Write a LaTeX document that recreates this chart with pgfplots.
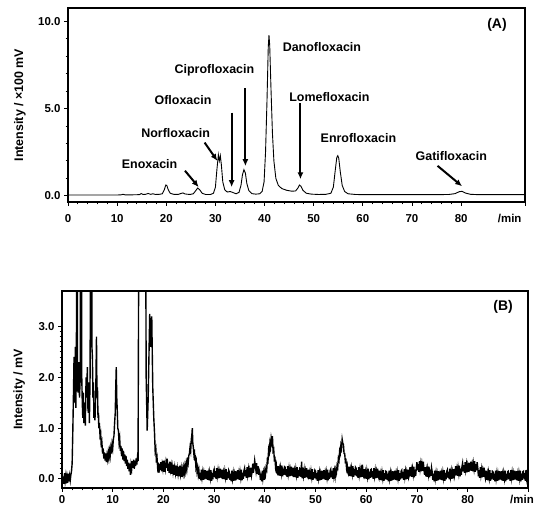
\documentclass[border=0pt]{standalone}
\usepackage{fontspec}
\setmainfont{Liberation Sans}
\usepackage{pgfplots}
\pgfplotsset{compat=1.18}
\usetikzlibrary{arrows.meta}

\pgfplotsset{
  chrom/.style={
    scale only axis,
    axis line style={line width=1.1pt},
    tick align=outside, tick pos=left,
    xmin=0, xtick={0,10,...,80}, minor x tick num=4,
    major tick length=4pt, minor tick length=2.5pt,
    every tick/.style={black, line width=0.9pt},
    /pgf/number format/assume math mode=true,
    tick label style={font=\fontsize{11.5}{12}\bfseries\selectfont},
    yticklabel={\pgfmathprintnumber[fixed,fixed zerofill,precision=1]{\tick}},
    ylabel style={font=\fontsize{12.5}{14}\bfseries\selectfont, anchor=center},
  },
}
\tikzset{
  lbl/.style={font=\fontsize{12.5}{14}\bfseries\selectfont},
  arr/.style={-{Latex[length=7pt,width=6pt]}, line width=2pt},
}

\begin{document}
\begin{tikzpicture}
\useasboundingbox (0,0) rectangle (534bp,507bp);

% (A) standard mixture
\begin{axis}[chrom,
  at={(68bp,305bp)}, anchor=south west,
  width=457bp, height=194bp,
  xmax=93, ymin=-0.35, ymax=10.75,
  ytick={0,5,10}, minor y tick num=4,
  xticklabel style={yshift=-5bp},
  extra x ticks={93}, extra x tick labels={/min},
  extra x tick style={xticklabel style={anchor=north east, xshift=0bp}},
  ylabel={Intensity / ×100 mV},
  ylabel style={at={(axis description cs:-0.105,0.5)}},
]
\addplot[black, line width=0.9pt] coordinates {
(0,0.05) (5,0.05) (10,0.05) (10.8,0.06) (11.2,0.09) (11.6,0.06) (13,0.06)
(14.5,0.07) (14.9,0.13) (15.3,0.08) (15.8,0.09) (16.3,0.14) (16.8,0.09)
(17.3,0.12) (17.8,0.08) (18.6,0.09) (19.2,0.12) (19.6,0.35) (19.9,0.62)
(20.1,0.6) (20.4,0.35) (20.8,0.15) (21.5,0.09) (22.5,0.09) (23.0,0.14)
(23.4,0.17) (23.8,0.11) (24.8,0.08) (25.5,0.12) (26.0,0.3) (26.4,0.45)
(26.8,0.35) (27.3,0.15) (28.0,0.08) (29.0,0.08) (29.6,0.15) (30.0,0.5)
(30.3,1.5) (30.6,2.35) (30.8,2.0) (31.0,2.3) (31.2,1.8) (31.5,0.8)
(31.9,0.35) (32.4,0.22) (33.0,0.25) (33.5,0.2) (34.2,0.12) (34.8,0.2)
(35.2,0.6) (35.5,1.2) (35.8,1.5) (36.1,1.3) (36.4,0.7) (36.8,0.3)
(37.4,0.13) (38.2,0.1) (39.0,0.12) (39.5,0.25) (39.9,0.8) (40.2,2.5)
(40.5,5.5) (40.75,8.5) (40.9,9.2) (41.05,8.6) (41.3,6.2) (41.6,3.6)
(41.9,2.0) (42.3,1.0) (42.8,0.6) (43.5,0.42) (44.5,0.32) (45.5,0.27)
(46.3,0.28) (46.8,0.45) (47.1,0.62) (47.4,0.55) (47.8,0.32) (48.5,0.15)
(49.5,0.1) (51,0.08) (52.5,0.09) (53.5,0.15) (54.0,0.5) (54.4,1.5)
(54.7,2.2) (54.9,2.3) (55.1,2.15) (55.4,1.4) (55.8,0.6) (56.3,0.25)
(57.0,0.12) (58.5,0.08) (60,0.07) (65,0.07) (70,0.07) (75,0.07)
(77.5,0.08) (78.8,0.13) (79.6,0.24) (80.2,0.26) (80.9,0.16) (81.9,0.09)
(83.5,0.07) (93,0.07)
};
\node[lbl] at (axis cs:16.6,1.84) {Enoxacin};
\draw[arr] (axis cs:23.8,1.44) -- (axis cs:26.6,0.5);
\node[lbl] at (axis cs:21.9,3.62) {Norfloxacin};
\draw[arr] (axis cs:27.8,3.05) -- (axis cs:30.4,2.0);
\node[lbl] at (axis cs:23.4,5.46) {Ofloxacin};
\draw[arr] (axis cs:33.3,4.77) -- (axis cs:33.3,0.5);
\node[lbl] at (axis cs:29.8,7.18) {Ciprofloxacin};
\draw[arr] (axis cs:36.1,6.15) -- (axis cs:36.1,1.7);
\node[lbl, anchor=west] at (axis cs:43.0,8.5) {Danofloxacin};
\node[lbl] at (axis cs:53.2,5.63) {Lomefloxacin};
\draw[arr] (axis cs:47.3,5.29) -- (axis cs:47.3,0.95);
\node[lbl] at (axis cs:59.1,3.33) {Enrofloxacin};
\node[lbl] at (axis cs:78,2.3) {Gatifloxacin};
\draw[arr] (axis cs:75.2,1.72) -- (axis cs:80.2,0.55);
\node[lbl, font=\fontsize{14}{16}\bfseries\selectfont] at (axis cs:87.3,9.77) {(A)};
\end{axis}

% (B) sample
\begin{axis}[chrom,
  at={(62bp,19bp)}, anchor=south west,
  width=466bp, height=197bp,
  xmax=91.9, ymin=-0.18, ymax=3.7,
  ytick={0,1,2,3}, minor y tick num=9,
  extra x ticks={91.9}, extra x tick labels={/min},
  extra x tick style={xticklabel style={anchor=north, xshift=-6bp}},
  ylabel={Intensity / mV},
  ylabel style={at={(axis description cs:-0.092,0.5)}},
]
\addplot[black, line width=1.4pt] coordinates {
(0,0.09) (0.125,-0.07) (0.25,0.05) (0.375,-0.10) (0.5,0.11) (0.625,-0.04)
(0.75,0.06) (0.875,-0.09) (1.0,0.03) (1.125,-0.08) (1.25,0.10) (1.375,-0.05)
(1.5,0.06) (1.625,-0.03) (1.75,0.08) (1.875,0.15)
(2.0,0.3) (2.125,0.9) (2.25,1.6) (2.375,2.4) (2.5,1.5) (2.625,2.6) (2.75,1.4)
(2.85,2.9) (2.95,8) (3.05,2.2) (3.15,1.7) (3.3,2.3) (3.45,1.6) (3.6,2.0)
(3.7,8) (3.8,8) (3.9,2.0) (4.0,1.5) (4.1,1.2) (4.2,1.7) (4.3,1.1) (4.45,1.5)
(4.6,1.05) (4.75,2.0) (4.85,1.6) (5.0,2.2) (5.1,1.4) (5.2,1.3) (5.3,1.9)
(5.4,1.1) (5.55,2.1) (5.65,8) (5.8,8) (5.9,2.6) (6.0,2.4) (6.1,1.6) (6.2,1.9)
(6.3,1.2) (6.4,1.5) (6.5,1.15) (6.6,1.5) (6.7,2.0) (6.8,2.8) (6.9,1.6)
(7.0,1.8) (7.1,1.2) (7.2,1.3)
(7.25,1.0) (7.375,1.1) (7.5,0.85) (7.625,0.9) (7.75,0.62) (7.875,0.7)
(8.0,0.5) (8.125,0.6) (8.25,0.4) (8.375,0.52) (8.5,0.36) (8.625,0.5)
(8.75,0.33) (8.875,0.46) (9.0,0.38) (9.125,0.52) (9.25,0.42) (9.375,0.55)
(9.5,0.45) (9.625,0.6) (9.75,0.5) (9.875,0.68) (10.0,0.6) (10.125,0.78)
(10.25,0.85) (10.375,1.1) (10.5,1.3) (10.6,1.8) (10.7,2.2) (10.8,1.6)
(10.9,1.35) (11.0,1.0) (11.125,0.95) (11.25,0.72) (11.375,0.8) (11.5,0.55)
(11.625,0.65) (11.75,0.45) (11.875,0.6) (12.0,0.38) (12.125,0.55) (12.25,0.35)
(12.375,0.48) (12.5,0.3) (12.625,0.45) (12.75,0.25) (12.875,0.38) (13.0,0.2)
(13.125,0.32) (13.25,0.15) (13.375,0.3) (13.5,0.08) (13.625,0.28) (13.75,0.2)
(13.875,0.35) (14.0,0.22) (14.125,0.38) (14.25,0.2) (14.375,0.36) (14.5,0.25)
(14.625,0.4) (14.75,0.28) (14.875,0.42) (15.0,0.35)
(15.1,3.5) (15.3,8) (16.4,8) (16.6,2.0) (16.8,0.95) (17.0,1.6) (17.3,3.25)
(17.5,2.6) (17.7,3.2) (17.9,1.8) (18.1,1.2) (18.25,0.9) (18.375,0.55)
(18.5,0.6) (18.625,0.32) (18.75,0.4) (18.875,0.2)
(19.0,0.25) (19.125,0.12) (19.25,0.3) (19.375,0.18) (19.5,0.33) (19.625,0.15)
(19.75,0.28) (19.875,0.2) (20.0,0.36) (20.125,0.14) (20.25,0.27) (20.375,0.19)
(20.5,0.32) (20.625,0.22) (20.75,0.4) (20.875,0.16) (21.0,0.3) (21.125,0.12)
(21.25,0.34) (21.375,0.18) (21.5,0.26) (21.625,0.1) (21.75,0.24) (21.875,0.14)
(22.0,0.28) (22.125,0.08) (22.25,0.22) (22.375,0.12) (22.5,0.26) (22.625,0.06)
(22.75,0.2) (22.875,0.1) (23.0,0.24) (23.125,0.05) (23.25,0.26) (23.375,0.1)
(23.5,0.2) (23.625,0.04) (23.75,0.18) (23.875,0.1) (24.0,0.22) (24.125,0.12)
(24.25,0.25) (24.375,0.16) (24.5,0.3) (24.625,0.2) (24.75,0.35) (24.875,0.3)
(25.0,0.45) (25.125,0.5) (25.25,0.62) (25.375,0.55) (25.5,0.78) (25.6,0.85)
(25.7,1.0) (25.8,0.7) (25.9,0.62) (26.0,0.5) (26.1,0.58) (26.2,0.4)
(26.3,0.42) (26.4,0.25) (26.5,0.32) (26.625,0.15) (26.75,0.22) (26.875,0.08)
(27.0,0.16) (27.125,0.00) (27.25,0.12) (27.375,-0.03) (27.5,0.18) (27.625,0.03)
(27.75,0.13) (27.875,-0.02) (28.0,0.10) (28.125,-0.01) (28.25,0.17) (28.375,0.02)
(28.5,0.01) (28.625,0.16) (28.75,-0.02) (28.875,0.09) (29.0,-0.03) (29.125,0.12)
(29.25,0.02) (29.375,0.17) (29.5,-0.04) (29.625,0.11) (29.75,-0.01) (29.875,0.15)
(30.0,0.19) (30.125,0.03) (30.25,0.15) (30.375,0.00) (30.5,0.21) (30.625,0.06)
(30.75,0.16) (30.875,0.01) (31.0,0.13) (31.125,0.02) (31.25,0.20) (31.375,0.05)
(31.5,0.03) (31.625,0.18) (31.75,0.00) (31.875,0.11) (32.0,-0.01) (32.125,0.14)
(32.25,0.04) (32.375,0.19) (32.5,-0.02) (32.625,0.13) (32.75,0.01) (32.875,0.17)
(33.0,0.14) (33.125,-0.02) (33.25,0.10) (33.375,-0.05) (33.5,0.16) (33.625,0.01)
(33.75,0.11) (33.875,-0.04) (34.0,0.08) (34.125,-0.03) (34.25,0.15) (34.375,0.00)
(34.5,0.02) (34.625,0.17) (34.75,-0.01) (34.875,0.10) (35.0,-0.02) (35.125,0.13)
(35.25,0.03) (35.375,0.18) (35.5,-0.03) (35.625,0.12) (35.75,0.00) (35.875,0.16)
(36.0,0.21) (36.125,0.05) (36.25,0.17) (36.375,0.02) (36.5,0.23) (36.625,0.08)
(36.75,0.18) (36.875,0.03) (37.0,0.15) (37.125,0.04) (37.25,0.22) (37.375,0.07)
(37.5,0.15) (37.625,0.30) (37.75,0.12) (37.875,0.23) (38.0,0.36) (38.125,0.26)
(38.25,0.16) (38.375,0.31) (38.5,0.10) (38.625,0.25) (38.75,0.08) (38.875,0.18)
(39.0,0.14) (39.125,-0.02) (39.25,0.10) (39.375,-0.05) (39.5,0.16) (39.625,0.01)
(39.75,0.11) (39.875,-0.02)
(40.0,0.15) (40.125,0.08) (40.25,0.22) (40.375,0.18) (40.5,0.38) (40.625,0.35)
(40.75,0.58) (40.875,0.52) (41.0,0.7) (41.125,0.62) (41.25,0.8) (41.375,0.72)
(41.5,0.84) (41.625,0.55) (41.75,0.58) (41.875,0.38) (42.0,0.4) (42.125,0.22)
(42.25,0.28) (42.375,0.12)
(42.5,0.10) (42.625,0.25) (42.75,0.07) (42.875,0.18) (43.0,0.06) (43.125,0.21)
(43.25,0.11) (43.375,0.26) (43.5,0.05) (43.625,0.20) (43.75,0.08) (43.875,0.24)
(44.0,0.23) (44.125,0.07) (44.25,0.19) (44.375,0.04) (44.5,0.25) (44.625,0.10)
(44.75,0.20) (44.875,0.05) (45.0,0.17) (45.125,0.06) (45.25,0.24) (45.375,0.09)
(45.5,0.07) (45.625,0.22) (45.75,0.04) (45.875,0.15) (46.0,0.03) (46.125,0.18)
(46.25,0.08) (46.375,0.23) (46.5,0.02) (46.625,0.17) (46.75,0.05) (46.875,0.21)
(47.0,0.20) (47.125,0.04) (47.25,0.34) (47.375,0.01) (47.5,0.22) (47.625,0.07)
(47.75,0.17) (47.875,0.02) (48.0,0.14) (48.125,0.03) (48.25,0.21) (48.375,0.06)
(48.5,0.03) (48.625,0.18) (48.75,0.00) (48.875,0.11) (49.0,-0.01) (49.125,0.14)
(49.25,0.04) (49.375,0.19) (49.5,-0.02) (49.625,0.13) (49.75,0.01) (49.875,0.17)
(50.0,0.15) (50.125,-0.01) (50.25,0.11) (50.375,-0.04) (50.5,0.17) (50.625,0.02)
(50.75,0.12) (50.875,-0.03) (51.0,0.09) (51.125,-0.02) (51.25,0.16) (51.375,0.01)
(51.5,0.02) (51.625,0.17) (51.75,-0.01) (51.875,0.10) (52.0,-0.02) (52.125,0.13)
(52.25,0.03) (52.375,0.18) (52.5,-0.03) (52.625,0.12) (52.75,0.00) (52.875,0.16)
(53.0,0.19) (53.125,0.03) (53.25,0.15) (53.375,0.00) (53.5,0.21) (53.625,0.06)
(53.75,0.16) (53.875,0.05)
(54.0,0.18) (54.125,0.12) (54.25,0.26) (54.375,0.22) (54.5,0.4) (54.625,0.36)
(54.75,0.55) (54.875,0.5) (55.0,0.66) (55.125,0.6) (55.25,0.78) (55.375,0.7)
(55.5,0.68) (55.625,0.5) (55.75,0.5) (55.875,0.34) (56.0,0.36) (56.125,0.2)
(56.25,0.26) (56.375,0.12)
(56.5,0.09) (56.625,0.24) (56.75,0.06) (56.875,0.17) (57.0,0.05) (57.125,0.20)
(57.25,0.10) (57.375,0.25) (57.5,0.04) (57.625,0.19) (57.75,0.07) (57.875,0.23)
(58.0,0.21) (58.125,0.05) (58.25,0.17) (58.375,0.02) (58.5,0.23) (58.625,0.08)
(58.75,0.18) (58.875,0.03) (59.0,0.15) (59.125,0.04) (59.25,0.28) (59.375,0.07)
(59.5,0.04) (59.625,0.19) (59.75,0.01) (59.875,0.12) (60.0,0.00) (60.125,0.15)
(60.25,0.05) (60.375,0.20) (60.5,-0.01) (60.625,0.14) (60.75,0.02) (60.875,0.18)
(61.0,0.19) (61.125,0.03) (61.25,0.15) (61.375,0.00) (61.5,0.21) (61.625,0.06)
(61.75,0.16) (61.875,0.01) (62.0,0.13) (62.125,0.02) (62.25,0.20) (62.375,0.05)
(62.5,0.01) (62.625,0.16) (62.75,-0.02) (62.875,0.09) (63.0,-0.03) (63.125,0.12)
(63.25,0.02) (63.375,0.17) (63.5,-0.04) (63.625,0.11) (63.75,-0.01) (63.875,0.15)
(64.0,0.14) (64.125,-0.02) (64.25,0.10) (64.375,-0.05) (64.5,0.16) (64.625,0.01)
(64.75,0.11) (64.875,-0.04) (65.0,0.08) (65.125,-0.03) (65.25,0.15) (65.375,0.00)
(65.5,0.01) (65.625,0.16) (65.75,-0.02) (65.875,0.09) (66.0,-0.03) (66.125,0.12)
(66.25,0.02) (66.375,0.17) (66.5,-0.04) (66.625,0.11) (66.75,-0.01) (66.875,0.15)
(67.0,0.17) (67.125,0.01) (67.25,0.13) (67.375,-0.02) (67.5,0.19) (67.625,0.04)
(67.75,0.14) (67.875,-0.01) (68.0,0.11) (68.125,0.00) (68.25,0.18) (68.375,0.03)
(68.5,0.08) (68.625,0.23) (68.75,0.05) (68.875,0.16) (69.0,0.04) (69.125,0.19)
(69.25,0.09) (69.375,0.24) (69.5,0.03) (69.625,0.18) (69.75,0.06) (69.875,0.22)
(70.0,0.33) (70.125,0.17) (70.25,0.29) (70.375,0.14) (70.5,0.35) (70.625,0.20)
(70.75,0.30) (70.875,0.15) (71.0,0.27) (71.125,0.16) (71.25,0.34) (71.375,0.19)
(71.5,0.08) (71.625,0.23) (71.75,0.05) (71.875,0.16) (72.0,0.04) (72.125,0.19)
(72.25,0.09) (72.375,0.24) (72.5,0.03) (72.625,0.18) (72.75,0.06) (72.875,0.22)
(73.0,0.14) (73.125,-0.02) (73.25,0.10) (73.375,-0.05) (73.5,0.16) (73.625,0.01)
(73.75,0.11) (73.875,-0.04) (74.0,0.08) (74.125,-0.03) (74.25,0.15) (74.375,0.00)
(74.5,0.01) (74.625,0.16) (74.75,-0.02) (74.875,0.09) (75.0,-0.03) (75.125,0.12)
(75.25,0.02) (75.375,0.17) (75.5,-0.04) (75.625,0.11) (75.75,-0.01) (75.875,0.15)
(76.0,0.18) (76.125,0.02) (76.25,0.14) (76.375,-0.01) (76.5,0.20) (76.625,0.05)
(76.75,0.15) (76.875,0.00) (77.0,0.12) (77.125,0.01) (77.25,0.19) (77.375,0.04)
(77.5,0.10) (77.625,0.25) (77.75,0.07) (77.875,0.18) (78.0,0.06) (78.125,0.21)
(78.25,0.11) (78.375,0.26) (78.5,0.05) (78.625,0.20) (78.75,0.08) (78.875,0.24)
(79.0,0.31) (79.125,0.15) (79.25,0.27) (79.375,0.12) (79.5,0.33) (79.625,0.18)
(79.75,0.28) (79.875,0.13) (80.0,0.25) (80.125,0.14) (80.25,0.32) (80.375,0.17)
(80.5,0.19) (80.625,0.34) (80.75,0.16) (80.875,0.27) (81.0,0.15) (81.125,0.30)
(81.25,0.20) (81.375,0.35) (81.5,0.14) (81.625,0.29) (81.75,0.17) (81.875,0.33)
(82.0,0.21) (82.125,0.05) (82.25,0.17) (82.375,0.02) (82.5,0.23) (82.625,0.08)
(82.75,0.18) (82.875,0.03) (83.0,0.15) (83.125,0.04) (83.25,0.22) (83.375,0.07)
(83.5,0.01) (83.625,0.16) (83.75,-0.02) (83.875,0.09) (84.0,-0.03) (84.125,0.12)
(84.25,0.02) (84.375,0.17) (84.5,-0.04) (84.625,0.11) (84.75,-0.01) (84.875,0.15)
(85.0,0.14) (85.125,-0.02) (85.25,0.10) (85.375,-0.05) (85.5,0.16) (85.625,0.01)
(85.75,0.11) (85.875,-0.04) (86.0,0.08) (86.125,-0.03) (86.25,0.15) (86.375,0.00)
(86.5,0.00) (86.625,0.15) (86.75,-0.03) (86.875,0.08) (87.0,-0.04) (87.125,0.11)
(87.25,0.01) (87.375,0.16) (87.5,-0.05) (87.625,0.10) (87.75,-0.02) (87.875,0.14)
(88.0,0.15) (88.125,-0.01) (88.25,0.11) (88.375,-0.04) (88.5,0.17) (88.625,0.02)
(88.75,0.12) (88.875,-0.03) (89.0,0.09) (89.125,-0.02) (89.25,0.16) (89.375,0.01)
(89.5,0.00) (89.625,0.15) (89.75,-0.03) (89.875,0.08) (90.0,-0.04) (90.125,0.11)
(90.25,0.01) (90.375,0.16) (90.5,-0.05) (90.625,0.10) (90.75,-0.02) (90.875,0.14)
(91.0,0.15) (91.125,-0.01) (91.25,0.11) (91.375,-0.04) (91.5,0.17) (91.625,0.02)
(91.75,0.12) (91.875,-0.03)
};
\node[lbl, font=\fontsize{14}{16}\bfseries\selectfont] at (axis cs:87,3.39) {(B)};
\end{axis}
\end{tikzpicture}
\end{document}
